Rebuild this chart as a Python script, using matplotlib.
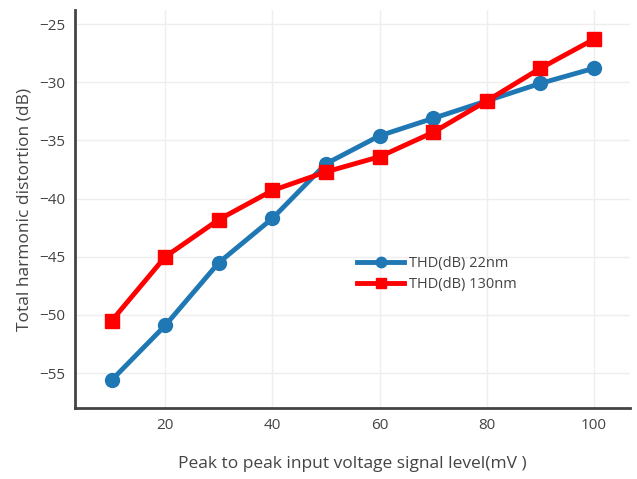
import matplotlib
matplotlib.use("Agg")
import matplotlib.pyplot as plt

voltage_mv = [10, 20, 30, 40, 50, 60, 70, 80, 90, 100]
thd_22nm = [-55.6, -50.9, -45.5, -41.7, -37.0, -34.6, -33.1, -31.6, -30.1, -28.8]
thd_130nm = [-50.5, -45.0, -41.8, -39.3, -37.7, -36.4, -34.3, -31.6, -28.8, -26.3]

plt.rcParams['font.family'] = ['Open Sans', 'DejaVu Sans']
txt = '#444444'

fig = plt.figure(figsize=(6.37, 4.79), dpi=100)
ax = fig.add_axes([0.118, 0.148, 0.871, 0.831])

ax.plot(voltage_mv, thd_22nm, color='#1f77b4', lw=3.5, marker='o', ms=10,
        label='THD(dB) 22nm')
ax.plot(voltage_mv, thd_130nm, color='#ff0000', lw=3.5, marker='s', ms=10,
        label='THD(dB) 130nm')

ax.set_xlim(3.2, 106.7)
ax.set_ylim(-58, -23.8)
ax.set_xticks([20, 40, 60, 80, 100])
ax.set_yticks([-55, -50, -45, -40, -35, -30, -25])
ax.grid(True, color='#eeeeee', lw=1)
ax.set_axisbelow(True)

for s in ['top', 'right']:
    ax.spines[s].set_visible(False)
for s in ['left', 'bottom']:
    ax.spines[s].set_color('#444444')
    ax.spines[s].set_linewidth(2)
ax.tick_params(length=0, colors=txt, labelsize=11, pad=7)

ax.set_xlabel('Peak to peak input voltage signal level(mV )', color=txt,
              fontsize=12.5, labelpad=17)
ax.set_ylabel('Total harmonic distortion (dB)', color=txt, fontsize=12.5)
ax.yaxis.set_label_coords(-0.076, 0.5)

leg = ax.legend(loc='upper left', bbox_to_anchor=(0.485, 0.415), frameon=False,
                fontsize=10.5, handlelength=3.2, labelspacing=0.4,
                handletextpad=0.35, markerscale=0.75)
for t in leg.get_texts():
    t.set_color(txt)

fig.savefig('out.png', dpi=100)
